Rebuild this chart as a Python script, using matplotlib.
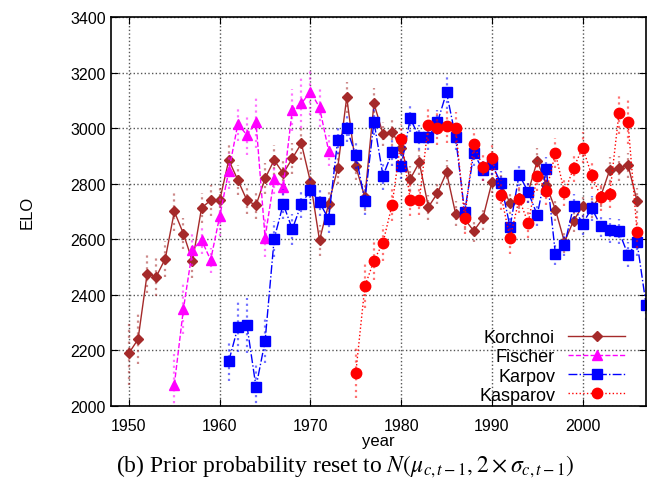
import numpy as np
import matplotlib
matplotlib.use('Agg')
import matplotlib.pyplot as plt

# ELO estimates per player

korchnoi_years = list(range(1950, 2007))
korchnoi_elo = [2190, 2240, 2475, 2465, 2530, 2700, 2620, 2520, 2713, 2740,
                2740, 2885, 2813, 2740, 2722, 2819, 2885, 2837, 2891, 2945,
                2807, 2596, 2727, 2855, 3111, 2862, 2751, 3089, 2979, 2987,
                2927, 2817, 2877, 2716, 2766, 2841, 2692, 2672, 2630, 2675,
                2805, 2800, 2730, 2748, 2770, 2882, 2795, 2707, 2590, 2667,
                2719, 2715, 2755, 2851, 2856, 2867, 2738]
korchnoi_err = [115, 90, 70, 70, 65, 70, 55, 60, 55, 55,
                50, 60, 55, 50, 50, 55, 55, 50, 55, 60,
                50, 55, 50, 55, 55, 50, 50, 55, 45, 50,
                45, 45, 45, 45, 40, 45, 45, 40, 40, 40,
                40, 40, 40, 40, 40, 45, 40, 40, 40, 40,
                40, 40, 40, 45, 45, 45, 45]

fischer_years = list(range(1955, 1973))
fischer_elo = [2076, 2349, 2562, 2597, 2525, 2683, 2846, 3015, 2975, 3023,
               2606, 2817, 2789, 3066, 3089, 3131, 3075, 2919]
fischer_err = [110, 90, 60, 50, 45, 70, 65, 60, 70, 95,
               70, 55, 50, 75, 90, 85, 70, 55]

karpov_years = list(range(1961, 2008))
karpov_elo = [2161, 2283, 2290, 2068, 2233, 2601, 2727, 2636, 2727, 2777,
              2733, 2673, 2957, 2999, 2903, 2738, 3024, 2828, 2913, 2862,
              3035, 2967, 2967, 3021, 3129, 2967, 2697, 2910, 2850, 2871,
              2801, 2644, 2833, 2770, 2687, 2852, 2546, 2579, 2719, 2655,
              2712, 2648, 2632, 2629, 2544, 2589, 2363]
karpov_err = [70, 90, 100, 80, 80, 65, 55, 55, 50, 50,
              50, 50, 50, 50, 50, 50, 50, 50, 50, 45,
              50, 45, 45, 45, 60, 45, 40, 45, 40, 40,
              45, 40, 40, 40, 40, 45, 40, 40, 45, 40,
              45, 40, 45, 45, 45, 50, 55]

kasparov_years = list(range(1975, 2007))
kasparov_elo = [2119, 2431, 2523, 2588, 2724, 2961, 2742, 2742, 3013, 3000,
                3006, 3002, 2675, 2943, 2860, 2894, 2759, 2603, 2745, 2658,
                2829, 2774, 2910, 2769, 2856, 2930, 2831, 2753, 2764, 3053,
                3022, 2627]
kasparov_err = [90, 80, 70, 65, 60, 55, 60, 55, 60, 60,
                60, 55, 55, 55, 50, 50, 55, 55, 50, 55,
                55, 50, 55, 50, 50, 55, 50, 50, 50, 75,
                80, 60]

series = [
    ('Korchnoi', korchnoi_years, korchnoi_elo, korchnoi_err, '#A52A2A', '-', 'D', 5.5),
    ('Fischer', fischer_years, fischer_elo, fischer_err, '#FF00FF', '--', '^', 7),
    ('Karpov', karpov_years, karpov_elo, karpov_err, '#0000FF', '-.', 's', 7.5),
    ('Kasparov', kasparov_years, kasparov_elo, kasparov_err, '#FF0000', ':', 'o', 7.5),
]

plt.rcParams['font.family'] = ['Liberation Sans', 'DejaVu Sans']
plt.rcParams['mathtext.fontset'] = 'stix'

fig = plt.figure(figsize=(6.52, 4.89), dpi=100)
ax = fig.add_axes([0.170, 0.168, 0.821, 0.795])

for name, yrs, elo, err, col, ls, mk, ms in series:
    eb = ax.errorbar(yrs, elo, yerr=err, fmt='none', ecolor=col, elinewidth=1.6,
                     alpha=0.55, capsize=0)
    eb[2][0].set_linestyle(':')
    ax.plot(yrs, elo, color=col, linestyle=ls, linewidth=1.0,
            marker=mk, markersize=ms, markeredgecolor=col, label=name)

ax.set_xlim(1948, 2007)
ax.set_ylim(2000, 3400)
ax.set_xticks(range(1950, 2001, 10))
ax.set_yticks(range(2000, 3401, 200))
ax.tick_params(direction='in', labelsize=11.5, top=True, right=True, length=5)
ax.tick_params(axis='x', pad=9)
ax.grid(True, linestyle=':', color='#555555', linewidth=1.0)
for sp in ax.spines.values():
    sp.set_linewidth(1.2)

ax.set_xlabel('year', fontsize=12, labelpad=0)
ax.set_ylabel('ELO', fontsize=12, labelpad=26)

ax.legend(loc='lower right', frameon=False, markerfirst=False, fontsize=13,
          handlelength=3.2, handletextpad=0.7, labelspacing=0.12,
          borderaxespad=0.15, bbox_to_anchor=(0.98, -0.02))

fig.text(0.529, 0.045, r'(b) Prior probability reset to $N(\mu_{c,t-1}, 2 \times \sigma_{c,t-1})$',
         ha='center', va='center', fontsize=17, family='Liberation Serif')

plt.savefig('out.png', dpi=100)
